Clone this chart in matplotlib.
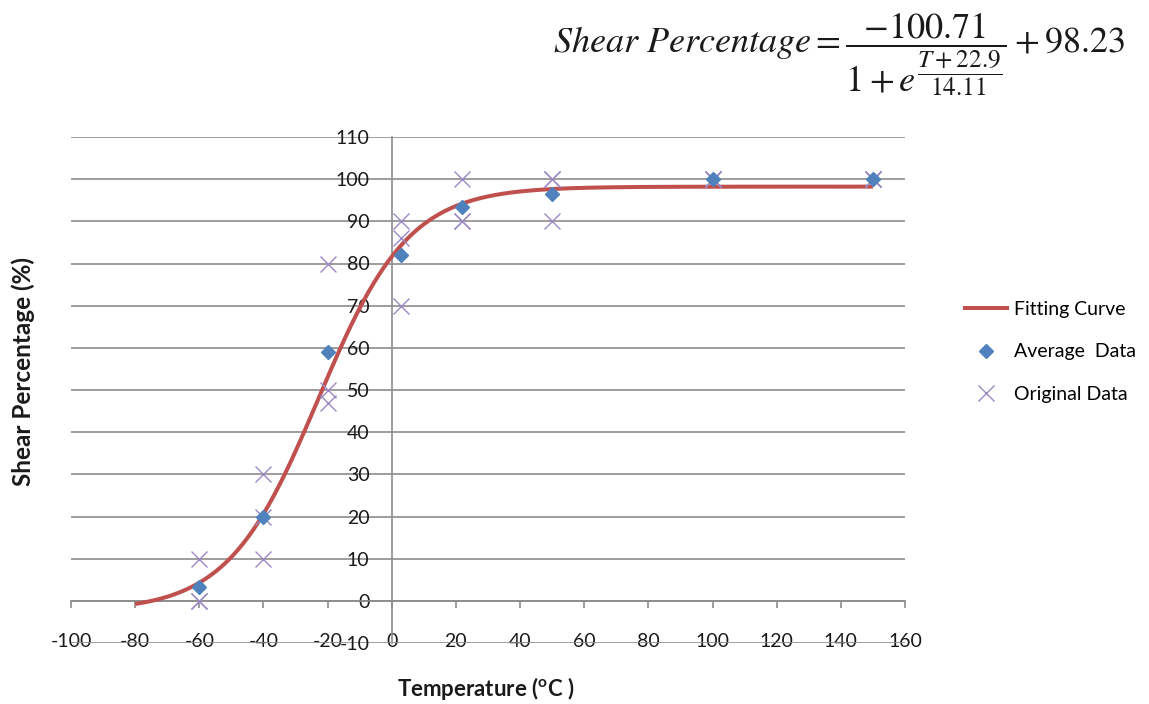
import numpy as np
import matplotlib
matplotlib.use("Agg")
import matplotlib.pyplot as plt

plt.rcParams["font.family"] = ["Lato", "DejaVu Sans"]
plt.rcParams["axes.unicode_minus"] = False

# measured shear percentages per test temperature
temps = [-60, -40, -20, 3, 22, 50, 100, 150]
original = [
    [10, 0, 0],
    [30, 20, 10],
    [80, 50, 47],
    [90, 86, 70],
    [100, 90, 90],
    [100, 90, 100],
    [100, 100, 100],
    [100, 100, 100],
]
average = [3.3, 20, 59, 82, 93.3, 96.5, 100, 100]

# fitted sigmoid: A / (1 + exp((T - T0) / S)) + B
fit_a = -100.71
fit_t0 = -22.9
fit_s = 14.11
fit_b = 98.23
curve_start, curve_end = -80, 150

x_ticks = list(range(-100, 161, 20))
y_ticks = list(range(-10, 111, 10))

grid_col = "#8c8c8c"
txt_col = "#1a1a1a"

fig = plt.figure(figsize=(11.49, 7.04), dpi=100)
ax = fig.add_axes([71 / 1149, 61 / 704, 834 / 1149, 506 / 704])

T = np.linspace(curve_start, curve_end, 400)
shear = fit_a / (1 + np.exp((T - fit_t0) / fit_s)) + fit_b
ax.plot(T, shear, color="#C0504D", lw=2.9, label="Fitting Curve", zorder=3,
        solid_capstyle="butt")

ox = [t for t, vals in zip(temps, original) for _ in vals]
oy = [v for vals in original for v in vals]
ax.plot(ox, oy, ls="none", marker="x", ms=12, mew=1.0, color="#9c8ac4",
        label="Original Data", zorder=4)
ax.plot(temps, average, ls="none", marker="D", ms=7.5, color="#4F81BD",
        label="Average  Data", zorder=5)

ax.set_xlim(-100, 160)
ax.set_ylim(-10, 110)
ax.set_xticks(x_ticks)
ax.set_yticks(y_ticks)
ax.set_xticklabels([str(v) for v in x_ticks])
ax.set_yticklabels([str(v) for v in y_ticks])

ax.set_axisbelow(True)
ax.yaxis.grid(True, color=grid_col, lw=1.2)
for s in ("top", "right"):
    ax.spines[s].set_visible(False)
ax.spines["left"].set_position(("data", 0))
ax.spines["bottom"].set_position(("data", 0))
for s in ("left", "bottom"):
    ax.spines[s].set_color(grid_col)
    ax.spines[s].set_linewidth(1.2)

ax.tick_params(axis="x", direction="out", length=5, width=1.2, color=grid_col,
               pad=18, labelsize=14, labelcolor=txt_col)
ax.tick_params(axis="y", length=0, pad=16, labelsize=14, labelcolor=txt_col)

fig.text(23 / 1149, 1 - 371 / 704, "Shear Percentage (%)", rotation=90,
         ha="center", va="center", fontsize=17.5, fontweight="bold",
         color=txt_col)
fig.text(486 / 1149, 1 - 689 / 704, r"Temperature ($^\mathregular{o}$C )",
         ha="center", va="center", fontsize=16, fontweight="bold",
         color=txt_col)

fig.text(1125 / 1149, 1 - 54 / 704,
         r"$Shear\ Percentage = \dfrac{-100.71}{1 + e^{\dfrac{T+22.9}{14.11}}} + 98.23$",
         ha="right", va="center", fontsize=26, math_fontfamily="stix",
         color=txt_col)

h, l = ax.get_legend_handles_labels()
order = [0, 2, 1]
ax.legend([h[i] for i in order], [l[i] for i in order], frameon=False,
          loc="center left", bbox_to_anchor=(945 / 1149, 1 - 352 / 704),
          bbox_transform=fig.transFigure, fontsize=14, handlelength=2.4,
          handletextpad=0.26, labelspacing=1.3)

fig.savefig("out.png", dpi=100)
